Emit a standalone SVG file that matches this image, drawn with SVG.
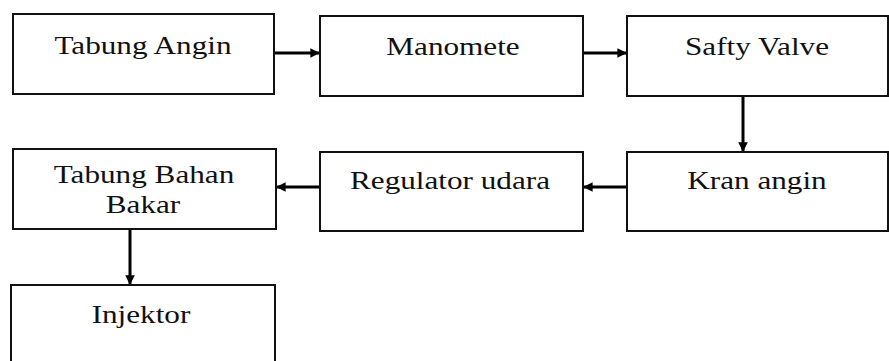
<svg xmlns="http://www.w3.org/2000/svg" width="889" height="361" viewBox="0 0 889 361">
<style>
.box{fill:#fff;stroke:#111;stroke-width:2}
.lbl{font-family:"Liberation Serif",serif;font-size:26px;fill:#111;text-anchor:middle}
.con{stroke:#000;stroke-width:3;fill:none;marker-end:url(#ah)}
</style>
<defs>
<marker id="ah" viewBox="0 0 10 10" refX="9" refY="5" markerWidth="3.6" markerHeight="3.2" orient="auto" markerUnits="strokeWidth">
<path d="M0,0 L10,5 L0,10 Z" fill="#000"/>
</marker>
</defs>
<rect width="889" height="361" fill="#fff"/>
<g id="connectors">
<line class="con" x1="275" y1="53" x2="319" y2="53"/>
<line class="con" x1="584" y1="53" x2="626" y2="53"/>
<line class="con" x1="743" y1="97" x2="743" y2="151"/>
<line class="con" x1="627" y1="187" x2="584" y2="187"/>
<line class="con" x1="320" y1="187" x2="277" y2="187"/>
<line class="con" x1="130" y1="230" x2="130" y2="284"/>
</g>
<g id="tabung-angin">
<rect class="box" x="13" y="14" width="261" height="80"/>
<text class="lbl" transform="translate(143,54) scale(1.2,1)">Tabung Angin</text>
</g>
<g id="manomete">
<rect class="box" x="320" y="16" width="263" height="80"/>
<text class="lbl" transform="translate(453,55) scale(1.2,1)">Manomete</text>
</g>
<g id="safty-valve">
<rect class="box" x="627" y="16" width="261" height="80"/>
<text class="lbl" transform="translate(757,55) scale(1.2,1)">Safty Valve</text>
</g>
<g id="kran-angin">
<rect class="box" x="627" y="152" width="261" height="79"/>
<text class="lbl" transform="translate(757,189) scale(1.2,1)">Kran angin</text>
</g>
<g id="regulator-udara">
<rect class="box" x="320" y="152" width="263" height="79"/>
<text class="lbl" transform="translate(450,189) scale(1.2,1)">Regulator udara</text>
</g>
<g id="tabung-bahan-bakar">
<rect class="box" x="13" y="149" width="263" height="80"/>
<text class="lbl" transform="translate(144,183) scale(1.2,1)">Tabung Bahan</text>
<text class="lbl" transform="translate(143,213) scale(1.2,1)">Bakar</text>
</g>
<g id="injektor">
<rect class="box" x="11" y="285" width="264" height="90"/>
<text class="lbl" transform="translate(141,323) scale(1.2,1)">Injektor</text>
</g>
</svg>
